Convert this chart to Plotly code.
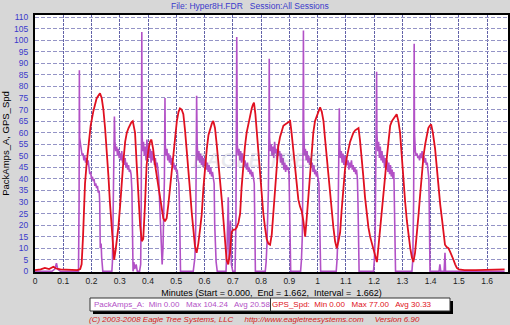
import plotly.graph_objects as go

# GPS speed trace (minutes, speed)
spd_t = [0.000, 0.020, 0.035, 0.050, 0.065, 0.075, 0.090, 0.110, 0.130, 0.150, 0.160, 0.165, 0.170, 0.177,
         0.183, 0.189, 0.197, 0.206, 0.212, 0.218, 0.224, 0.230, 0.236, 0.242, 0.248, 0.254, 0.260, 0.265,
         0.271, 0.277, 0.280, 0.285, 0.290, 0.295, 0.301, 0.307, 0.313, 0.319, 0.325, 0.331, 0.336, 0.341,
         0.346, 0.350, 0.354, 0.360, 0.366, 0.372, 0.378, 0.383, 0.389, 0.395, 0.401, 0.407, 0.412, 0.418,
         0.425, 0.431, 0.437, 0.443, 0.448, 0.454, 0.460, 0.466, 0.472, 0.478, 0.484, 0.490, 0.496, 0.502,
         0.508, 0.513, 0.519, 0.525, 0.531, 0.537, 0.543, 0.549, 0.555, 0.560, 0.566, 0.572, 0.578, 0.584,
         0.590, 0.596, 0.602, 0.608, 0.614, 0.620, 0.626, 0.631, 0.637, 0.643, 0.649, 0.655, 0.661, 0.667,
         0.672, 0.678, 0.684, 0.690, 0.696, 0.702, 0.708, 0.714, 0.720, 0.726, 0.731, 0.737, 0.743, 0.749,
         0.755, 0.761, 0.767, 0.771, 0.775, 0.780, 0.785, 0.790, 0.796, 0.802, 0.808, 0.814, 0.820, 0.826,
         0.832, 0.838, 0.844, 0.850, 0.855, 0.861, 0.867, 0.873, 0.879, 0.885, 0.891, 0.897, 0.903, 0.908,
         0.914, 0.920, 0.926, 0.932, 0.938, 0.944, 0.950, 0.956, 0.961, 0.967, 0.973, 0.979, 0.985, 0.991,
         0.997, 1.003, 1.009, 1.015, 1.021, 1.026, 1.032, 1.038, 1.044, 1.050, 1.056, 1.062, 1.068, 1.074,
         1.080, 1.085, 1.091, 1.097, 1.103, 1.109, 1.115, 1.121, 1.127, 1.133, 1.139, 1.145, 1.150, 1.156,
         1.162, 1.168, 1.174, 1.180, 1.186, 1.192, 1.198, 1.204, 1.210, 1.215, 1.221, 1.227, 1.233, 1.239,
         1.245, 1.251, 1.257, 1.263, 1.269, 1.275, 1.280, 1.286, 1.292, 1.298, 1.304, 1.310, 1.316, 1.322,
         1.328, 1.334, 1.339, 1.345, 1.351, 1.357, 1.363, 1.369, 1.375, 1.381, 1.387, 1.392, 1.397, 1.402,
         1.408, 1.416, 1.422, 1.428, 1.434, 1.440, 1.446, 1.451, 1.457, 1.463, 1.469, 1.475, 1.481, 1.487,
         1.493, 1.500, 1.520, 1.560, 1.600, 1.640, 1.662]
spd_v = [0.5, 0.8, 1.5, 1.0, 2.0, 1.2, 0.8, 0.6, 0.5, 0.5, 1.0, 3, 15, 38,
         47, 53, 63, 69, 72, 74.8, 76, 77, 75, 70, 62, 53, 41, 30,
         18, 7, 5, 9, 14, 19, 28, 39, 48, 56, 60, 62, 63.5, 64.5,
         65, 63, 60, 46, 32, 20, 13, 14, 28, 46, 52, 56, 57, 53,
         46, 41, 36, 31, 26, 23, 21.6, 23, 29, 36, 45, 53, 60, 65,
         69, 70.5, 70, 68, 61, 53, 44, 34.5, 25, 17, 11, 8, 12, 18,
         24.5, 36, 46, 53, 59, 62, 64, 65, 62, 55, 48, 41, 31, 22,
         12, 5, 3, 8, 17, 18, 18, 19, 21, 25, 36, 46, 54, 60,
         64, 68, 70.5, 72, 73, 68, 60, 51, 42, 33, 25, 19, 14, 12,
         11.5, 16, 25, 35, 44, 54, 58, 61, 63, 63.5, 64, 64.5, 65, 60,
         53, 44, 36, 31, 28, 26, 21.6, 15, 22, 32, 43, 53, 60, 65,
         67, 69, 71, 69, 65, 58, 50, 42, 33, 25, 19, 13, 10, 13,
         17, 26, 36, 44, 49, 53, 56, 58, 60, 61, 61.5, 62, 57, 50,
         41, 32, 24, 19, 15, 12, 9, 6, 4, 10, 17, 24, 32, 41,
         49, 57, 63, 65, 66, 67, 68, 65, 60, 50, 39, 30, 22, 15,
         10, 6, 4, 8, 15, 24, 33, 42, 50, 55, 59, 62, 63, 63.6,
         60, 53, 45, 36, 29, 23, 16, 11.5, 10.5, 10, 8.5, 7, 5, 3,
         1.5, 0.8, 0.5, 0.5, 0.5, 0.5, 0.8]

# Battery pack current trace (minutes, amps)
amp_t = [0.000, 0.060, 0.070, 0.076, 0.080, 0.090, 0.154, 0.156, 0.157, 0.158, 0.161, 0.164, 0.167, 0.170,
         0.173, 0.176, 0.179, 0.182, 0.185, 0.188, 0.191, 0.194, 0.197, 0.200, 0.203, 0.206, 0.209, 0.212,
         0.215, 0.218, 0.221, 0.224, 0.227, 0.229, 0.231, 0.234, 0.236, 0.238, 0.240, 0.272, 0.274, 0.276,
         0.278, 0.280, 0.281, 0.283, 0.286, 0.289, 0.292, 0.295, 0.298, 0.301, 0.304, 0.307, 0.310, 0.313,
         0.316, 0.319, 0.322, 0.325, 0.328, 0.331, 0.334, 0.337, 0.340, 0.343, 0.345, 0.347, 0.350, 0.353,
         0.358, 0.362, 0.370, 0.374, 0.376, 0.378, 0.379, 0.381, 0.384, 0.387, 0.390, 0.393, 0.396, 0.399,
         0.402, 0.405, 0.408, 0.411, 0.414, 0.417, 0.420, 0.423, 0.426, 0.429, 0.432, 0.435, 0.438, 0.441,
         0.444, 0.447, 0.450, 0.453, 0.456, 0.458, 0.460, 0.461, 0.464, 0.467, 0.470, 0.473, 0.476, 0.479,
         0.482, 0.485, 0.488, 0.491, 0.494, 0.497, 0.500, 0.503, 0.506, 0.509, 0.511, 0.513, 0.515, 0.560,
         0.563, 0.566, 0.569, 0.571, 0.572, 0.574, 0.577, 0.580, 0.583, 0.586, 0.589, 0.592, 0.595, 0.598,
         0.601, 0.604, 0.607, 0.610, 0.613, 0.616, 0.619, 0.622, 0.625, 0.628, 0.631, 0.634, 0.636, 0.638,
         0.641, 0.645, 0.676, 0.680, 0.684, 0.687, 0.692, 0.695, 0.700, 0.708, 0.711, 0.714, 0.716, 0.719,
         0.722, 0.725, 0.728, 0.731, 0.734, 0.737, 0.740, 0.743, 0.746, 0.749, 0.752, 0.755, 0.758, 0.761,
         0.764, 0.767, 0.770, 0.773, 0.776, 0.778, 0.780, 0.815, 0.818, 0.821, 0.824, 0.826, 0.828, 0.829,
         0.830, 0.833, 0.836, 0.839, 0.842, 0.845, 0.848, 0.851, 0.854, 0.857, 0.860, 0.863, 0.866, 0.869,
         0.872, 0.875, 0.878, 0.881, 0.884, 0.887, 0.890, 0.893, 0.896, 0.899, 0.901, 0.903, 0.905, 0.940,
         0.943, 0.946, 0.948, 0.950, 0.951, 0.954, 0.957, 0.960, 0.963, 0.966, 0.969, 0.972, 0.975, 0.978,
         0.981, 0.984, 0.987, 0.990, 0.993, 0.996, 0.999, 1.002, 1.005, 1.007, 1.009, 1.011, 1.066, 1.069,
         1.072, 1.075, 1.077, 1.078, 1.081, 1.084, 1.087, 1.090, 1.093, 1.096, 1.099, 1.102, 1.105, 1.108,
         1.111, 1.114, 1.117, 1.120, 1.123, 1.126, 1.129, 1.132, 1.135, 1.138, 1.141, 1.143, 1.145, 1.147,
         1.198, 1.201, 1.204, 1.207, 1.209, 1.210, 1.213, 1.216, 1.219, 1.222, 1.225, 1.228, 1.231, 1.234,
         1.237, 1.240, 1.243, 1.246, 1.249, 1.252, 1.255, 1.258, 1.261, 1.264, 1.267, 1.270, 1.272, 1.274,
         1.276, 1.334, 1.337, 1.340, 1.342, 1.343, 1.346, 1.349, 1.352, 1.355, 1.358, 1.361, 1.364, 1.367,
         1.370, 1.373, 1.376, 1.379, 1.382, 1.385, 1.388, 1.391, 1.394, 1.396, 1.398, 1.430, 1.433, 1.436,
         1.448, 1.451, 1.453, 1.662]
amp_v = [0, 0, 1, 3.5, 1, 0, 0, 30, 87, 58, 55, 52, 50, 51,
         48, 50, 47, 49, 46, 48, 44, 42, 43, 40, 41, 39, 40, 37,
         38, 36, 37, 34, 35, 30, 10, 12, 6, 2, 0, 0, 4, 20,
         36, 45, 67, 56, 52, 54, 50, 53, 49, 51, 48, 52, 47, 50,
         46, 49, 45, 47, 44, 46, 43, 44, 42, 35, 5, 0, 4, 1,
         3, 0, 0, 3, 30, 103.5, 60, 52, 56, 50, 54, 48, 57, 51,
         55, 49, 53, 47, 52, 48, 50, 46, 49, 45, 47, 44, 40, 30,
         20, 8, 3, 10, 25, 40, 75, 55, 50, 53, 48, 51, 47, 50,
         46, 49, 45, 47, 44, 46, 43, 44, 40, 38, 30, 10, 0, 0,
         3, 6, 20, 40, 76, 55, 48, 52, 47, 51, 46, 50, 45, 49,
         46, 48, 44, 47, 43, 46, 42, 45, 41, 43, 40, 38, 20, 8,
         4, 0, 0, 12, 32, 5, 22, 3, 0, 0, 20, 101.4, 55, 50,
         53, 48, 52, 47, 51, 49, 45, 48, 46, 44, 47, 43, 45, 42,
         44, 41, 43, 40, 38, 20, 0, 0, 4, 12, 25, 35, 60, 92,
         58, 52, 55, 50, 54, 49, 56, 51, 53, 48, 55, 50, 52, 47,
         51, 46, 49, 44, 47, 43, 46, 44, 45, 42, 30, 5, 0, 0,
         5, 15, 40, 104.24, 62, 50, 53, 48, 52, 47, 50, 46, 49, 45,
         47, 43, 46, 42, 44, 41, 43, 40, 38, 25, 5, 0, 0, 5,
         15, 40, 70.5, 55, 49, 52, 47, 51, 46, 50, 45, 49, 46, 48,
         44, 47, 45, 48, 44, 46, 43, 45, 42, 44, 40, 30, 5, 0,
         0, 5, 15, 45, 86.3, 60, 52, 56, 49, 54, 48, 52, 47, 50,
         45, 49, 44, 48, 43, 47, 42, 46, 41, 44, 40, 43, 30, 5,
         0, 0, 5, 30, 98.5, 60, 52, 50, 51, 49, 50, 48, 51, 49,
         52, 48, 50, 47, 49, 46, 47, 44, 40, 20, 0, 0, 3, 0,
         0, 8, 0, 0]

x_ticks = [0, 0.1, 0.2, 0.3, 0.4, 0.5, 0.6, 0.7, 0.8, 0.9, 1.0, 1.1, 1.2, 1.3, 1.4, 1.5, 1.6]
x_labels = ["0", "0.1", "0.2", "0.3", "0.4", "0.5", "0.6", "0.7", "0.8", "0.9",
            "1", "1.1", "1.2", "1.3", "1.4", "1.5", "1.6"]
y_ticks = list(range(0, 111, 5))

PURPLE = "#b251c6"
RED = "#e01020"
BLUE = "#3a3acb"
FONT = "Liberation Sans, Arial, sans-serif"

W, H = 510, 325
ML, MR, MT, MB = 35, 2, 15, 53
PW, PH = W - ML - MR, H - MT - MB


def px(x):
    """Page pixel column -> paper fraction of the plotting area."""
    return (x - ML) / PW


def py(y):
    """Page pixel row -> paper fraction of the plotting area."""
    return (H - MB - y) / PH


fig = go.Figure()
fig.add_trace(go.Scatter(x=amp_t, y=amp_v, mode="lines", name="PackAmps_A",
                         line=dict(color=PURPLE, width=1.6), hoverinfo="skip"))
fig.add_trace(go.Scatter(x=spd_t, y=spd_v, mode="lines", name="GPS_Spd",
                         line=dict(color=RED, width=1.8), hoverinfo="skip"))

fig.update_layout(
    width=W, height=H,
    margin=dict(l=ML, r=MR, t=MT, b=MB, autoexpand=False),
    paper_bgcolor="#d7d7d7",
    plot_bgcolor="white",
    showlegend=False,
    font=dict(family=FONT, size=9, color="black"),
    xaxis=dict(
        range=[0, 1.674], tickvals=x_ticks, ticktext=x_labels,
        showgrid=True, gridcolor="#6262a8", griddash="3px,1px", gridwidth=1,
        zeroline=False, showline=True, linecolor="black", linewidth=2, mirror=True,
        ticks="", tickfont=dict(size=8.5, color="#222222"), automargin=False,
        title=dict(text="Minutes (Start = 0.000,  End = 1.662,  Interval =  1.662)",
                   font=dict(size=9, color="black"), standoff=4),
    ),
    yaxis=dict(
        range=[-0.3, 110.9], tickvals=y_ticks,
        showgrid=True, gridcolor="#9494c6", griddash="4px,2px", gridwidth=1,
        zeroline=False, showline=True, linecolor="black", linewidth=2, mirror=True,
        ticks="", ticklabelstandoff=3, tickfont=dict(size=8.5, color=BLUE), automargin=False,
        title=dict(text="PackAmps_A, GPS_Spd", font=dict(size=9.5, color="black"), standoff=4),
    ),
)

# faint logo mark
fig.add_annotation(text="<b><i>EAGLE TREE</i></b>", x=px(257), y=py(160), xref="paper", yref="paper",
                   showarrow=False, font=dict(size=20, color="rgba(120,120,150,0.16)", family=FONT))

# header
fig.add_annotation(text="File: Hyper8H.FDR   Session:All Sessions", x=px(250), y=py(6.5),
                   xref="paper", yref="paper", yanchor="middle", xanchor="center", showarrow=False,
                   font=dict(size=8.5, color=BLUE))

# statistics box
fig.add_shape(type="rect", xref="paper", yref="paper", x0=px(93), x1=px(453),
              y0=py(314), y1=py(301), fillcolor="black", line=dict(width=0), layer="above")
fig.add_shape(type="rect", xref="paper", yref="paper", x0=px(90), x1=px(450),
              y0=py(311), y1=py(298), fillcolor="white",
              line=dict(color="#333333", width=1), layer="above")
fig.add_shape(type="line", xref="paper", yref="paper", x0=px(270.5), x1=px(270.5),
              y0=py(311), y1=py(298), line=dict(color="#333333", width=1), layer="above")

stats = [
    ("PackAmps_A:  Min 0.00   Max 104.24   Avg 20.58", PURPLE, 182),
    ("GPS_Spd:  Min 0.00   Max 77.00   Avg 30.33", RED, 352),
]
for text, color, cx in stats:
    fig.add_annotation(text=text, x=px(cx), y=py(304.5), xref="paper", yref="paper",
                       showarrow=False, xanchor="center", yanchor="middle",
                       font=dict(size=8, color=color))

# footer
fig.add_annotation(
    text="<i>(C) 2003-2008 Eagle Tree Systems, LLC     http://www.eagletreesystems.com     Version 6.90</i>",
    x=px(254), y=py(319), xref="paper", yref="paper", showarrow=False,
    xanchor="center", yanchor="middle", font=dict(size=8, color="#d42020"))

fig.write_html("out.html")
